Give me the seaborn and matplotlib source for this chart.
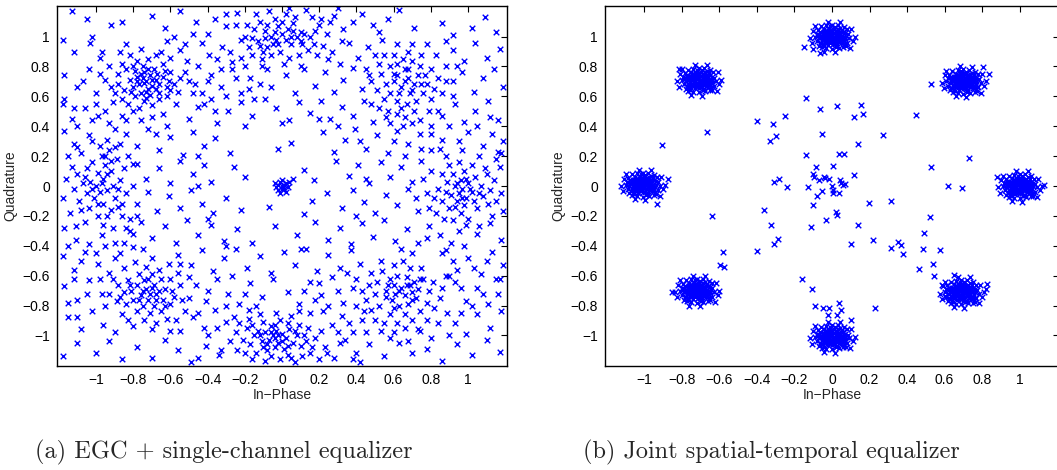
import matplotlib
matplotlib.use("Agg")
import matplotlib.pyplot as plt
import pandas as pd
import seaborn as sns

# Axis ticks shared by both constellation plots.
tick_values = [-1, -0.8, -0.6, -0.4, -0.2, 0, 0.2, 0.4, 0.6, 0.8, 1]
tick_labels = ["\u22121", "\u22120.8", "\u22120.6", "\u22120.4", "\u22120.2", "0",
               "0.2", "0.4", "0.6", "0.8", "1"]

captions = ["(a) EGC + single-channel equalizer", "(b) Joint spatial-temporal equalizer"]

# (a) EGC + single-channel equalizer: loose clouds around the 8-PSK points.
egc_top_left = [
    (-0.75, 0.72), (-0.73, 0.70), (-0.71, 0.74), (-0.77, 0.68), (-0.70, 0.67), (-0.74, 0.76),
    (-0.68, 0.71), (-0.78, 0.73), (-0.72, 0.65), (-0.66, 0.68), (-0.76, 0.62), (-0.80, 0.66),
    (-0.69, 0.78), (-0.64, 0.73), (-0.62, 0.66), (-0.82, 0.71), (-0.79, 0.60), (-0.74, 0.57),
    (-0.85, 0.64), (-0.71, 0.61), (-0.66, 0.62), (-0.61, 0.70), (-0.84, 0.78), (-0.86, 0.82),
    (-0.82, 0.88), (-0.88, 0.75), (-0.90, 0.62), (-0.77, 0.52), (-0.70, 0.54), (-0.62, 0.60),
    (-0.58, 0.68), (-0.60, 0.76), (-0.64, 0.82), (-0.72, 0.85), (-0.78, 0.84), (-0.91, 0.56),
    (-0.83, 0.55), (-0.68, 0.88), (-0.56, 0.63), (-0.55, 0.72), (-0.75, 0.80), (-0.81, 0.63),
    (-0.73, 0.63), (-0.67, 0.75), (-0.63, 0.77), (-0.88, 0.68), (-0.79, 0.77), (-0.95, 0.71),
    (-0.93, 0.80), (-0.87, 0.90),
    (-0.74, 0.69), (-0.76, 0.75), (-0.70, 0.71), (-0.72, 0.78), (-0.78, 0.70), (-0.68, 0.65),
    (-0.80, 0.80), (-0.73, 0.59), (-0.66, 0.58), (-0.86, 0.58), (-0.92, 0.66), (-0.65, 0.90),
    (-0.76, 0.92), (-0.84, 0.95), (-0.97, 0.90), (-1.02, 1.00), (-0.98, 0.75), (-1.07, 0.70),
    (-1.00, 0.55), (-0.60, 0.64),
]
egc_top = [
    (-0.05, 0.95), (-0.08, 0.93), (-0.03, 0.98), (0.00, 1.02), (0.03, 1.05), (-0.10, 0.90),
    (-0.06, 0.88), (0.05, 0.95), (0.08, 1.00), (0.10, 1.03), (0.12, 1.02), (0.15, 1.00),
    (0.18, 1.04), (0.20, 1.08), (0.21, 1.12), (-0.13, 0.97), (-0.15, 1.05), (-0.12, 1.10),
    (-0.08, 1.08), (-0.04, 1.12), (0.02, 1.15), (0.06, 1.09), (-0.01, 0.90), (0.04, 0.86),
    (0.09, 0.88), (0.14, 0.91), (-0.16, 0.88), (-0.18, 0.93), (-0.02, 1.07), (0.07, 1.13),
    (0.11, 0.95), (-0.09, 0.99), (0.17, 0.95), (-0.14, 1.15), (-0.07, 1.17), (0.13, 1.18),
    (0.24, 1.02), (0.22, 0.94), (-0.20, 1.00), (-0.11, 0.85), (0.01, 0.82), (0.26, 1.10),
    (-0.19, 1.08), (0.05, 1.00), (-0.04, 1.03),
    (-0.06, 1.00), (-0.02, 0.95), (0.02, 0.98), (-0.09, 1.04), (0.06, 1.04), (-0.12, 0.94),
    (0.10, 0.97), (0.00, 1.10), (-0.16, 0.99), (0.16, 1.13), (0.19, 0.88), (-0.22, 0.86),
    (0.25, 0.85), (-0.25, 1.08), (0.28, 1.14), (0.10, 0.80), (-0.08, 0.78), (-0.30, 1.15),
    (0.32, 0.97), (0.04, 1.19),
]
egc_top_right = [
    (0.58, 0.80), (0.60, 0.75), (0.62, 0.82), (0.65, 0.85), (0.70, 0.84), (0.74, 0.80),
    (0.77, 0.74), (0.78, 0.68), (0.76, 0.62), (0.72, 0.57), (0.67, 0.55), (0.62, 0.57),
    (0.58, 0.62), (0.56, 0.68), (0.60, 0.70), (0.64, 0.66), (0.68, 0.72), (0.71, 0.68),
    (0.66, 0.78), (0.63, 0.62), (0.69, 0.62), (0.73, 0.74), (0.55, 0.58), (0.57, 0.50),
    (0.62, 0.48), (0.66, 0.46), (0.71, 0.50), (0.80, 0.58), (0.82, 0.65), (0.80, 0.78),
    (0.84, 0.72), (0.75, 0.88), (0.68, 0.90), (0.60, 0.88), (0.53, 0.75), (0.51, 0.64),
    (0.86, 0.62), (0.88, 0.80), (0.79, 0.50), (0.65, 0.40), (0.58, 0.42), (0.74, 0.44),
    (0.52, 0.52), (0.70, 0.95), (0.83, 0.88),
    (0.68, 0.78), (0.66, 0.70), (0.70, 0.64), (0.62, 0.74), (0.75, 0.68), (0.64, 0.52),
    (0.56, 0.46), (0.52, 0.82), (0.48, 0.70), (0.45, 0.78), (0.88, 0.70), (0.92, 0.60),
    (0.84, 0.50), (0.78, 0.95), (0.62, 0.95), (0.55, 0.88), (0.94, 0.80), (0.70, 0.42),
    (0.80, 0.40), (0.48, 0.55),
]
egc_right = [
    (0.95, -0.05), (0.97, -0.02), (0.99, -0.08), (0.93, 0.00), (0.96, 0.04), (1.00, 0.02),
    (1.02, -0.04), (0.94, -0.10), (0.98, -0.13), (1.03, -0.10), (0.91, -0.06), (0.89, 0.03),
    (0.92, 0.08), (0.98, 0.10), (1.04, 0.06), (1.07, 0.00), (1.08, -0.07), (1.05, -0.15),
    (0.96, -0.18), (0.90, -0.15), (0.86, -0.10), (0.84, -0.02), (0.86, 0.08), (0.90, 0.14),
    (0.95, 0.16), (1.02, 0.14), (1.10, 0.08), (1.12, -0.03), (1.11, -0.12), (1.00, -0.22),
    (0.92, -0.23), (0.83, -0.18), (0.80, 0.10), (0.82, -0.08), (1.14, 0.04), (1.15, -0.10),
    (1.06, 0.20), (0.97, 0.24), (0.88, 0.20), (1.17, 0.13), (0.78, -0.05), (1.13, -0.20),
    (0.99, -0.26), (1.18, -0.05),
    (0.94, 0.02), (0.97, -0.08), (1.01, -0.02), (0.99, 0.05), (0.93, -0.14), (1.06, -0.05),
    (0.88, -0.04), (1.09, 0.12), (0.87, -0.22), (0.95, -0.30), (1.06, -0.27), (0.79, -0.15),
    (0.76, 0.05), (0.72, -0.08), (1.16, 0.23), (1.19, -0.17),
]
egc_bottom_right = [
    (0.58, -0.62), (0.62, -0.60), (0.67, -0.61), (0.71, -0.64), (0.73, -0.69), (0.72, -0.75),
    (0.68, -0.79), (0.63, -0.80), (0.59, -0.76), (0.56, -0.70), (0.57, -0.66), (0.64, -0.68),
    (0.66, -0.73), (0.61, -0.72), (0.69, -0.66), (0.76, -0.62), (0.79, -0.70), (0.78, -0.78),
    (0.74, -0.84), (0.66, -0.86), (0.58, -0.86), (0.52, -0.80), (0.50, -0.72), (0.51, -0.64),
    (0.54, -0.57), (0.60, -0.53), (0.69, -0.55), (0.81, -0.64), (0.82, -0.82), (0.47, -0.66),
    (0.45, -0.76), (0.55, -0.92), (0.62, -0.92), (0.70, -0.90), (0.78, -0.90), (0.85, -0.75),
    (0.86, -0.68), (0.48, -0.58), (0.75, -0.55), (0.65, -0.50), (0.43, -0.70), (0.53, -0.50),
    (0.89, -0.85), (0.60, -0.66), (0.70, -0.71),
    (0.63, -0.70), (0.67, -0.66), (0.70, -0.76), (0.60, -0.82), (0.74, -0.62), (0.56, -0.74),
    (0.66, -0.95), (0.74, -0.97), (0.84, -0.92), (0.88, -0.60), (0.44, -0.84), (0.40, -0.62),
    (0.50, -0.90), (0.58, -1.02), (0.68, -1.04), (0.80, -1.02), (0.90, -1.00), (0.96, -0.85),
]
egc_bottom = [
    (-0.05, -1.00), (-0.03, -0.97), (-0.07, -1.03), (-0.02, -1.05), (0.00, -0.99), (-0.09, -0.98),
    (-0.06, -0.94), (-0.04, -1.08), (0.02, -1.02), (0.04, -0.96), (-0.11, -1.04), (-0.13, -0.97),
    (-0.08, -1.10), (0.01, -1.09), (0.06, -1.05), (0.03, -0.92), (-0.01, -0.90), (-0.10, -0.91),
    (-0.15, -1.00), (-0.17, -1.06), (-0.14, -1.12), (-0.06, -1.14), (0.03, -1.13), (0.08, -1.00),
    (0.10, -1.07), (0.12, -1.00), (0.09, -0.93), (-0.19, -0.95), (-0.21, -1.03), (-0.18, -0.89),
    (0.14, -0.95), (0.16, -1.08), (0.05, -0.87), (-0.03, -0.85), (-0.12, -0.86), (-0.23, -0.92),
    (0.18, -1.02), (-0.01, -1.16), (-0.20, -1.12), (0.11, -1.14), (0.21, -0.97), (-0.25, -0.98),
    (-0.16, -1.16), (0.07, -1.18), (-0.04, -1.02),
    (-0.06, -0.98), (-0.02, -1.00), (-0.08, -1.06), (0.00, -1.04), (-0.04, -0.93), (0.03, -1.07),
    (-0.12, -1.00), (0.07, -0.97), (-0.10, -1.08), (0.13, -1.04), (-0.16, -0.93), (0.05, -1.15),
    (-0.09, -1.17), (0.15, -1.12), (-0.24, -1.10), (0.20, -1.16), (-0.18, -0.83), (0.09, -0.84),
]
egc_bottom_left = [
    (-0.78, -0.66), (-0.76, -0.73), (-0.72, -0.76), (-0.68, -0.72), (-0.69, -0.66), (-0.74, -0.63),
    (-0.81, -0.70), (-0.80, -0.76), (-0.75, -0.80), (-0.69, -0.80), (-0.64, -0.76), (-0.63, -0.69),
    (-0.65, -0.62), (-0.70, -0.59), (-0.77, -0.59), (-0.83, -0.63), (-0.85, -0.71), (-0.84, -0.79),
    (-0.78, -0.84), (-0.71, -0.85), (-0.65, -0.84), (-0.60, -0.79), (-0.59, -0.70), (-0.60, -0.62),
    (-0.66, -0.56), (-0.73, -0.54), (-0.88, -0.66), (-0.89, -0.77), (-0.62, -0.89), (-0.55, -0.66),
    (-0.56, -0.58), (-0.91, -0.62), (-0.86, -0.86), (-0.74, -0.90), (-0.68, -0.92), (-0.54, -0.76),
    (-0.52, -0.84), (-0.61, -0.52), (-0.79, -0.51), (-0.93, -0.72), (-0.73, -0.69), (-0.71, -0.72),
    (-0.57, -0.90), (-0.50, -0.61), (-0.80, -0.94),
    (-0.75, -0.70), (-0.70, -0.68), (-0.77, -0.76), (-0.68, -0.76), (-0.72, -0.62), (-0.82, -0.66),
    (-0.66, -0.70), (-0.87, -0.74), (-0.63, -0.80), (-0.58, -0.74), (-0.83, -0.90), (-0.70, -0.96),
    (-0.60, -0.97), (-0.95, -0.80), (-0.98, -0.62), (-0.85, -0.55), (-0.70, -0.48), (-0.55, -0.52),
]
egc_left = [
    (-1.00, 0.00), (-0.98, -0.04), (-1.03, 0.03), (-0.96, 0.05), (-1.01, -0.08), (-0.94, -0.03),
    (-1.05, -0.05), (-0.99, 0.09), (-0.95, 0.14), (-0.97, 0.20), (-0.93, 0.24), (-1.02, 0.16),
    (-0.92, 0.10), (-0.90, -0.08), (-0.88, -0.14), (-0.92, -0.16), (-0.86, -0.20), (-0.96, -0.12),
    (-1.07, 0.02), (-1.09, -0.10), (-1.10, 0.08), (-1.05, 0.12), (-1.12, -0.02), (-1.04, -0.15),
    (-0.99, -0.20), (-0.89, 0.18), (-0.87, 0.04), (-0.84, -0.05), (-0.85, 0.12), (-0.82, -0.22),
    (-1.14, -0.18), (-1.13, 0.13), (-1.08, 0.22), (-0.98, 0.27), (-0.94, 0.31), (-0.90, 0.26),
    (-1.16, 0.05), (-0.96, -0.26), (-1.06, -0.24), (-0.80, 0.00), (-0.83, 0.20), (-1.18, -0.08),
    (-0.91, -0.28), (-1.11, -0.27), (-1.02, 0.30),
    (-0.97, 0.02), (-1.02, -0.02), (-0.94, 0.08), (-0.99, -0.12), (-0.91, 0.00), (-1.06, 0.06),
    (-0.95, 0.20), (-0.92, 0.17), (-0.88, -0.02), (-0.86, -0.12), (-0.84, -0.28), (-0.94, -0.20),
    (-1.08, -0.16), (-1.15, 0.20), (-1.12, 0.28), (-0.87, 0.28), (-0.80, 0.15), (-0.78, -0.20),
]
egc_origin = [
    (0.00, 0.00), (-0.02, 0.01), (0.01, -0.02), (-0.01, 0.03), (0.02, 0.02), (-0.03, -0.01),
    (0.00, 0.04), (0.03, -0.01), (-0.02, -0.03), (0.01, 0.01), (-0.04, 0.02), (0.02, -0.04),
    (0.04, 0.03), (-0.01, -0.05), (0.00, -0.02),
]
egc_background = [
    (-1.13, 1.17), (-1.05, 1.12), (-0.92, 1.08), (-0.86, 1.10), (-0.70, 1.14), (-0.63, 1.06),
    (-0.55, 1.17), (-0.48, 1.02), (-0.36, 1.12), (-0.30, 1.07), (-0.24, 1.16), (0.30, 1.19),
    (0.33, 1.05), (0.38, 1.10), (0.43, 1.15), (0.49, 1.08), (0.57, 1.12), (0.52, 1.03),
    (0.63, 1.18), (0.71, 1.06), (0.86, 1.09), (0.92, 1.01), (1.09, 1.13), (1.15, 1.03), (1.02, 1.06),
    (-1.18, 0.98), (-1.12, 0.90), (-1.03, 0.96), (-0.98, 0.86), (-0.62, 0.97), (-0.55, 0.91),
    (-0.51, 0.84), (-0.43, 0.96), (-0.39, 0.88), (-0.32, 0.93), (-0.27, 0.83), (-0.22, 0.98),
    (0.27, 0.90), (0.31, 0.82), (0.36, 0.96), (0.41, 0.86), (0.46, 0.93), (0.50, 0.88),
    (0.54, 0.98), (0.92, 0.91), (0.98, 0.84), (1.04, 0.96), (1.10, 0.86), (1.17, 0.92), (0.88, 0.97),
    (-1.17, 0.74), (-1.10, 0.66), (-1.04, 0.78), (-1.00, 0.62), (-0.52, 0.76), (-0.47, 0.68),
    (-0.43, 0.62), (-0.38, 0.74), (-0.33, 0.66), (-0.27, 0.78), (-0.22, 0.62), (-0.17, 0.72),
    (-0.11, 0.80), (-0.06, 0.66), (0.02, 0.74), (0.07, 0.62), (0.12, 0.78), (0.18, 0.67),
    (0.23, 0.76), (0.28, 0.63), (0.33, 0.71), (0.38, 0.79), (0.43, 0.65), (0.47, 0.74),
    (0.92, 0.70), (0.97, 0.76), (1.03, 0.63), (1.08, 0.72), (1.14, 0.78), (1.19, 0.66),
    (-1.18, 0.55), (-1.13, 0.45), (-1.06, 0.52), (-0.99, 0.47), (-0.93, 0.42), (-0.86, 0.47),
    (-0.64, 0.48), (-0.57, 0.55), (-0.50, 0.45), (-0.45, 0.53), (-0.38, 0.58), (-0.35, 0.42),
    (-0.29, 0.50), (-0.22, 0.56), (-0.16, 0.47), (-0.09, 0.58), (-0.03, 0.52), (0.04, 0.44),
    (0.09, 0.56), (0.15, 0.49), (0.21, 0.57), (0.26, 0.45), (0.32, 0.53), (0.38, 0.47),
    (0.44, 0.57), (0.49, 0.43), (0.86, 0.47), (0.93, 0.55), (0.98, 0.43), (1.04, 0.50),
    (1.11, 0.57), (1.16, 0.44),
    (-1.17, 0.37), (-1.10, 0.26), (-1.04, 0.34), (-0.84, 0.35), (-0.78, 0.27), (-0.72, 0.38),
    (-0.66, 0.24), (-0.60, 0.33), (-0.53, 0.21), (-0.48, 0.36), (-0.42, 0.27), (-0.36, 0.32),
    (-0.28, 0.22), (-0.02, 0.25), (0.05, 0.29), (0.22, 0.36), (0.28, 0.23), (0.34, 0.31),
    (0.39, 0.38), (0.45, 0.25), (0.51, 0.34), (0.57, 0.22), (0.62, 0.37), (0.68, 0.28),
    (0.74, 0.35), (0.80, 0.24), (0.86, 0.31), (1.08, 0.27), (1.13, 0.35), (1.18, 0.22),
    (-0.78, 0.15), (-0.73, 0.05), (-0.66, 0.12), (-0.60, 0.02), (-0.55, 0.17), (-0.48, 0.08),
    (-0.42, 0.14), (-0.38, 0.03), (-0.26, 0.13), (-0.20, 0.06), (0.12, 0.11), (0.17, 0.04),
    (0.29, 0.17), (0.36, 0.07), (0.41, 0.14), (0.47, 0.02), (0.53, 0.16), (0.58, 0.06),
    (0.64, 0.13), (0.70, 0.03), (0.75, 0.17), (0.06, 0.05),
    (-0.78, -0.12), (-0.72, -0.04), (-0.67, -0.17), (-0.61, -0.07), (-0.55, -0.15), (-0.49, -0.03),
    (-0.43, -0.12), (-0.37, -0.18), (-0.30, -0.08), (-0.22, -0.16), (0.16, -0.10), (0.24, -0.05),
    (0.32, -0.15), (0.38, -0.03), (0.44, -0.11), (0.50, -0.18), (0.56, -0.06), (0.62, -0.13),
    (0.68, -0.02), (0.73, -0.17), (0.12, -0.19), (-0.07, -0.14),
    (-1.17, -0.28), (-1.11, -0.36), (-1.04, -0.39), (-0.97, -0.33), (-0.90, -0.38), (-0.82, -0.30),
    (-0.76, -0.24), (-0.70, -0.35), (-0.63, -0.27), (-0.57, -0.38), (-0.51, -0.23), (-0.45, -0.33),
    (-0.38, -0.26), (-0.31, -0.37), (-0.24, -0.29), (-0.16, -0.38), (-0.04, -0.27), (0.08, -0.33),
    (0.18, -0.24), (0.25, -0.36), (0.31, -0.28), (0.37, -0.39), (0.43, -0.25), (0.49, -0.34),
    (0.55, -0.23), (0.61, -0.37), (0.67, -0.29), (0.73, -0.38), (0.79, -0.27), (0.85, -0.33),
    (0.91, -0.38), (1.05, -0.32), (1.12, -0.25), (1.18, -0.36),
    (-1.18, -0.47), (-1.12, -0.56), (-1.06, -0.44), (-0.99, -0.52), (-0.93, -0.58), (-0.87, -0.45),
    (-0.80, -0.41), (-0.56, -0.46), (-0.49, -0.53), (-0.43, -0.43), (-0.37, -0.57), (-0.31, -0.48),
    (-0.25, -0.42), (-0.19, -0.55), (-0.12, -0.47), (-0.06, -0.58), (0.01, -0.44), (0.07, -0.53),
    (0.13, -0.42), (0.19, -0.57), (0.25, -0.46), (0.31, -0.55), (0.37, -0.43), (0.42, -0.52),
    (0.88, -0.43), (0.94, -0.56), (1.00, -0.48), (1.07, -0.59), (1.13, -0.44), (1.19, -0.53),
    (-1.17, -0.67), (-1.10, -0.76), (-1.04, -0.63), (-0.97, -0.72), (-0.46, -0.66), (-0.41, -0.77),
    (-0.35, -0.62), (-0.29, -0.72), (-0.23, -0.79), (-0.17, -0.65), (-0.11, -0.74), (-0.05, -0.62),
    (0.03, -0.71), (0.09, -0.79), (0.15, -0.64), (0.21, -0.73), (0.27, -0.61), (0.33, -0.78),
    (0.38, -0.68), (0.93, -0.64), (0.99, -0.77), (1.05, -0.68), (1.11, -0.79), (1.17, -0.62),
    (-1.15, -0.88), (-1.08, -0.96), (-1.02, -0.84), (-0.96, -0.93), (-0.90, -0.98), (-0.55, -0.97),
    (-0.48, -0.88), (-0.42, -0.95), (-0.36, -0.83), (-0.30, -0.91), (0.22, -0.84), (0.27, -0.93),
    (0.32, -0.87), (0.38, -0.98), (0.43, -0.90), (0.48, -0.83), (0.53, -0.97), (0.60, -0.98),
    (0.73, -0.96), (0.93, -0.92), (0.99, -0.99), (1.05, -0.86), (1.12, -0.95), (1.18, -0.84),
    (-1.18, -1.14), (-1.10, -1.05), (-1.00, -1.12), (-0.93, -1.04), (-0.86, -1.16), (-0.78, -1.08),
    (-0.70, -1.15), (-0.63, -1.03), (-0.56, -1.10), (-0.49, -1.18), (-0.41, -1.07), (-0.34, -1.13),
    (-0.28, -1.04), (0.23, -1.08), (0.28, -1.15), (0.34, -1.03), (0.40, -1.12), (0.42, -1.18),
    (0.47, -1.06), (0.55, -1.14), (0.63, -1.05), (0.70, -1.12), (0.78, -1.09), (0.86, -1.17),
    (0.94, -1.06), (1.02, -1.13), (1.10, -1.03), (1.17, -1.11),
]
# points between the clouds, on the ring
egc_between = [
    (-0.45, 0.80), (-0.40, 0.70), (-0.35, 0.85), (-0.30, 0.60), (-0.25, 0.72), (-0.20, 0.80),
    (-0.18, 0.65), (-0.42, 0.55), (-0.48, 0.62), (-0.36, 0.50), (-0.28, 0.90), (-0.33, 0.78),
    (-0.12, 0.68), (-0.15, 0.58), (-0.52, 0.95), (-0.58, 1.00), (-0.40, 1.02), (-0.46, 1.10),
    (-0.60, 0.86), (-0.50, 0.70),
    (0.80, 0.35), (0.90, 0.40), (0.95, 0.30), (1.00, 0.36), (1.05, 0.40), (1.12, 0.46),
    (0.75, 0.25), (0.85, 0.25), (0.66, 0.20), (0.60, 0.30), (1.19, 0.30), (1.15, 0.18),
    (0.78, -0.35), (0.86, -0.45), (0.92, -0.50), (0.98, -0.40), (0.70, -0.45), (0.64, -0.42),
    (1.03, -0.55), (1.10, -0.50), (1.15, -0.62), (0.90, -0.60), (0.96, -0.68), (1.02, -0.80),
    (1.08, -0.72), (1.16, -0.72),
    (0.30, -0.70), (0.35, -0.58), (0.40, -0.80), (0.25, -0.80), (0.20, -0.65), (0.15, -0.85),
    (0.30, -0.98), (0.36, -0.92), (0.45, -0.98), (0.24, -1.12), (0.31, -1.05), (0.38, -1.16),
    (0.18, -0.76), (0.12, -0.70),
    (-0.30, -0.80), (-0.35, -0.95), (-0.40, -0.70), (-0.45, -0.85), (-0.50, -0.75), (-0.27, -0.60),
    (-0.33, -1.10), (-0.40, -1.00), (-0.45, -1.15), (-0.26, -0.88), (-0.20, -0.72), (-0.14, -0.80),
    (-0.90, -0.48), (-0.95, -0.40), (-1.00, -0.45), (-1.08, -0.50), (-1.15, -0.40), (-0.85, -0.38),
    (-0.80, -0.32), (-0.75, -0.42), (-1.12, -0.62), (-1.05, -0.72), (-1.15, -0.78), (-1.10, -0.88),
    (-1.10, 0.40), (-1.02, 0.44), (-0.95, 0.50), (-0.90, 0.38), (-0.84, 0.44), (-0.80, 0.50),
    (-0.76, 0.44), (-0.70, 0.46), (-1.17, 0.58), (-1.12, 0.52), (-0.68, 0.35), (-0.62, 0.40),
    (-0.45, 0.20), (-0.40, -0.22), (0.42, 0.30), (0.40, -0.20), (0.30, 0.40), (-0.30, -0.40),
    (0.20, 0.45), (-0.20, 0.40), (0.10, -0.42), (-0.45, 0.00), (0.45, 0.05), (0.00, 0.42),
]

# (b) Joint spatial-temporal equalizer: tight clusters at the 8-PSK points.
jst_centers = [(1.0, 0.0), (0.70, 0.70), (0.0, 1.0), (-0.71, 0.71),
               (-1.01, 0.01), (-0.72, -0.70), (0.0, -1.01), (0.69, -0.71)]
# spread of one cluster
jst_cluster_spread = [
    (-0.048, -0.05), (-0.022, -0.055), (0.004, -0.047), (0.027, -0.058), (0.05, -0.045),
    (-0.055, -0.024), (-0.03, -0.028), (-0.008, -0.02), (0.018, -0.03), (0.041, -0.022),
    (0.062, -0.03), (-0.06, 0.003), (-0.036, 0.0), (-0.012, 0.006), (0.011, -0.004),
    (0.034, 0.004), (0.058, 0.0), (-0.05, 0.027), (-0.025, 0.024), (0.0, 0.03), (0.024, 0.022),
    (0.046, 0.03), (-0.04, 0.052), (-0.015, 0.048), (0.01, 0.055), (0.034, 0.05), (0.055, 0.044),
    (-0.02, -0.01), (0.0, 0.012), (0.02, 0.01), (-0.005, -0.035),
    (-0.035, -0.04), (-0.01, -0.045), (0.015, -0.05), (0.038, -0.038), (-0.045, -0.012),
    (0.03, -0.012), (0.048, -0.012), (-0.048, 0.015), (-0.022, 0.012), (0.045, 0.015),
    (-0.035, 0.04), (-0.008, 0.04), (0.02, 0.04), (0.045, 0.058), (-0.01, 0.068),
    (0.015, 0.065), (-0.045, -0.065), (0.02, -0.068), (-0.018, 0.0), (0.008, -0.015),
    (-0.07, -0.01), (0.07, 0.0), (-0.065, 0.03), (0.068, -0.018),
    (-0.04, -0.025), (-0.028, -0.012), (-0.015, -0.03), (0.005, -0.025), (0.028, -0.025),
    (0.052, -0.03), (-0.052, 0.0), (-0.03, 0.012), (0.005, 0.0), (0.025, -0.005),
    (0.042, 0.0), (-0.04, 0.028), (-0.012, 0.022), (0.012, 0.025), (0.035, 0.025),
    (-0.025, 0.04), (0.0, 0.045), (0.028, 0.038), (-0.06, -0.045), (0.06, 0.03),
    (-0.08, -0.03), (-0.082, 0.02), (-0.075, 0.045), (-0.07, -0.06), (0.08, -0.04),
    (0.083, 0.015), (0.078, 0.05), (0.072, -0.065), (-0.03, -0.078), (0.0, -0.082),
    (0.035, -0.075), (-0.055, -0.072), (0.06, -0.07), (-0.03, 0.075), (0.0, 0.08),
    (0.03, 0.078), (-0.058, 0.068), (0.062, 0.066), (-0.09, 0.0), (0.092, -0.01),
    (-0.068, 0.012), (0.07, 0.022), (-0.064, -0.042), (0.066, -0.05),
    (-0.1, 0.04), (-0.105, -0.045), (0.1, 0.05), (0.11, -0.03), (-0.04, -0.1), (0.045, 0.098),
    (0.015, -0.105), (-0.02, 0.1), (0.095, -0.075), (-0.09, 0.07), (0.12, 0.0), (-0.115, -0.01),
]
jst_outliers = [
    (-0.147, 0.932), (-0.10, 0.92), (-0.066, 0.89),
    (-0.813, 0.78), (-0.665, 0.363), (-0.904, 0.272), (-0.872, 0.049), (-0.933, -0.12),
    (-0.642, -0.198), (-0.58, -0.444), (-0.598, -0.528), (-0.575, -0.54), (-0.855, -0.711),
    (-0.402, 0.435), (-0.312, 0.412), (-0.296, 0.337), (-0.33, 0.301), (-0.25, 0.468),
    (-0.138, 0.589), (-0.066, 0.513), (0.028, 0.533), (-0.055, 0.35), (0.157, 0.54),
    (0.163, 0.484), (0.117, 0.459), (0.139, 0.281), (0.274, 0.343), (0.45, 0.475),
    (0.528, 0.684), (0.806, 0.798), (0.836, 0.751), (0.73, 0.19), (0.528, 0.125),
    (0.618, -0.002), (0.691, -0.016), (0.88, 0.062), (1.13, 0.007), (0.314, -0.1),
    (0.195, -0.114), (0.136, -0.263), (0.216, -0.359), (0.101, -0.388), (0.314, -0.415),
    (0.353, -0.372), (0.369, -0.395), (0.376, -0.457), (0.483, -0.424), (0.493, -0.317),
    (0.525, -0.207), (0.577, -0.428), (0.541, -0.522), (0.463, -0.555), (0.546, -0.604),
    (0.587, -0.662), (0.601, -0.738), (0.649, -0.598), (0.825, -0.653), (0.823, -0.687),
    (-0.138, 0.207), (-0.103, 0.08), (-0.087, 0.127), (-0.097, 0.062), (-0.129, -0.009),
    (-0.067, 0.04), (-0.044, 0.062), (-0.037, 0.051), (-0.018, 0.045), (-0.055, -0.031),
    (-0.08, -0.067), (0.007, 0.134), (0.0, 0.0), (0.007, -0.027), (0.007, -0.049),
    (0.035, -0.045), (0.044, 0.04), (0.05, 0.022), (0.057, 0.007), (0.071, 0.016),
    (0.035, 0.216), (0.062, 0.216), (0.117, 0.076), (-0.099, -0.127), (-0.111, -0.276),
    (-0.034, -0.225), (0.021, -0.176), (0.028, -0.192), (-0.238, -0.009), (-0.28, 0.047),
    (-0.307, 0.027), (-0.362, -0.163), (-0.325, -0.261), (-0.289, -0.357), (-0.307, -0.388),
    (-0.401, -0.437), (-0.161, -0.624), (-0.105, -0.691), (-0.088, -0.8), (-0.046, -0.818),
    (-0.014, -0.818), (-0.023, -0.865), (0.039, -0.78), (0.046, -0.829), (0.027, -0.865),
    (0.101, -0.894), (0.229, -0.818),
]


def style_axis(ax):
    ax.set_xlim(-1.21, 1.21)
    ax.set_ylim(-1.205, 1.205)
    ax.set_xticks(tick_values)
    ax.set_xticklabels(tick_labels)
    ax.set_yticks(tick_values)
    ax.set_yticklabels(tick_labels)
    ax.tick_params(direction="in", length=4, width=0.8, top=True, right=True,
                   labelsize=10, pad=5, colors="black")
    for sp in ax.spines.values():
        sp.set_visible(True)
        sp.set_linewidth(1.0)
        sp.set_color("black")
    ax.set_xlabel("In\u2212Phase", fontsize=10, labelpad=1)
    ax.set_ylabel("Quadrature", fontsize=10, labelpad=4)


if __name__ == "__main__":
    sns.set_style("white")
    plt.rcParams["font.family"] = ["Liberation Sans", "DejaVu Sans"]

    egc_points = (egc_top_left + egc_top + egc_top_right + egc_right + egc_bottom_right
                  + egc_bottom + egc_bottom_left + egc_left + egc_origin + egc_background
                  + egc_between)
    df_egc = pd.DataFrame(egc_points, columns=["I", "Q"])

    jst_points = [(cx + dx, cy + dy) for cx, cy in jst_centers for dx, dy in jst_cluster_spread]
    df_jst = pd.DataFrame(jst_points + jst_outliers, columns=["I", "Q"])

    fig = plt.figure(figsize=(10.57, 4.70), dpi=100)
    ax_a = fig.add_axes((57 / 1057, 104 / 470, 450 / 1057, 360 / 470))
    ax_b = fig.add_axes((605 / 1057, 104 / 470, 454 / 1057, 360 / 470))

    for ax, df in [(ax_a, df_egc), (ax_b, df_jst)]:
        sns.scatterplot(data=df, x="I", y="Q", marker="x", color="blue", s=16,
                        linewidth=1.0, ax=ax, legend=False)
        style_axis(ax)

    fig.text(35 / 1057, 18 / 470, captions[0], family="cmr10", fontsize=17.5, va="center")
    fig.text(583 / 1057, 18 / 470, captions[1], family="cmr10", fontsize=17.5, va="center")

    fig.savefig("out.png", dpi=100, facecolor="white")
